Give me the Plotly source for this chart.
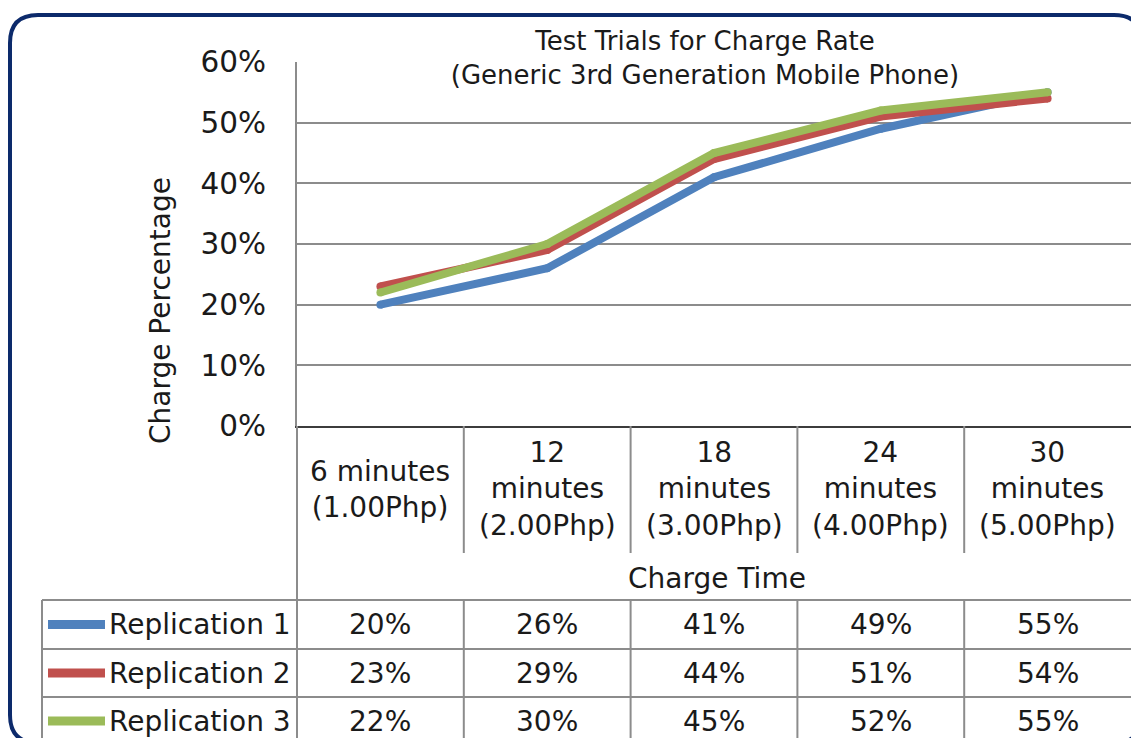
import plotly.graph_objects as go

# ---------------- data ----------------
categories = ["6 minutes<br>(1.00Php)", "12<br>minutes<br>(2.00Php)", "18<br>minutes<br>(3.00Php)",
              "24<br>minutes<br>(4.00Php)", "30<br>minutes<br>(5.00Php)"]
series_names = ["Replication 1", "Replication 2", "Replication 3"]
rep1 = [20, 26, 41, 49, 55]
rep2 = [23, 29, 44, 51, 54]
rep3 = [22, 30, 45, 52, 55]
series_values = [rep1, rep2, rep3]
series_colors = ["#4F81BD", "#C0504D", "#9BBB59"]
title_text = "Test Trials for Charge Rate<br>(Generic 3rd Generation Mobile Phone)"
y_title = "Charge Percentage"
x_title = "Charge Time"

# ---------------- layout helpers ----------------
W, H = 1131, 738
FONT = "DejaVu Sans"
TXT = "#1a1a1a"
GRID = "#8c8c8c"


def px(x):
    return x / W


def py(y):
    return 1 - y / H


PLOT_L, PLOT_T, PLOT_B = 297, 62, 426

fig = go.Figure()
for name, vals, col in zip(series_names, series_values, series_colors):
    fig.add_trace(go.Scatter(
        x=categories, y=[v / 100 for v in vals], name=name, mode="lines+markers",
        line=dict(color=col, width=8), marker=dict(color=col, size=8, line=dict(width=0)),
        showlegend=False, hoverinfo="skip"))

shapes = []
annotations = []

# rounded outer frame
fl, ft, fr, fb, r = 10, 15, 1142, 743, 28
path = (f"M {px(fl)},{py(ft + r)} Q {px(fl)},{py(ft)} {px(fl + r)},{py(ft)} "
        f"L {px(fr - r)},{py(ft)} Q {px(fr)},{py(ft)} {px(fr)},{py(ft + r)} "
        f"L {px(fr)},{py(fb - r)} Q {px(fr)},{py(fb)} {px(fr - r)},{py(fb)} "
        f"L {px(fl + r)},{py(fb)} Q {px(fl)},{py(fb)} {px(fl)},{py(fb - r)} Z")
shapes.append(dict(type="path", xref="paper", yref="paper", path=path,
                   line=dict(color="#0C2A6B", width=4), layer="below"))

# data-table grid
row_lines = [600, 649, 697, 745]
tbl_left = 42
bottom = 760


def hline(x0, x1, y, color=GRID):
    shapes.append(dict(type="line", xref="paper", yref="paper", x0=px(x0), x1=px(x1),
                       y0=py(y), y1=py(y), line=dict(color=color, width=2)))


for yy in row_lines:
    hline(tbl_left, W + 5, yy)
# left column borders
shapes.append(dict(type="line", xref="paper", yref="paper", x0=px(tbl_left), x1=px(tbl_left),
                   y0=py(row_lines[0]), y1=py(bottom), line=dict(color=GRID, width=2)))
shapes.append(dict(type="line", xref="paper", yref="paper", x0=px(PLOT_L), x1=px(PLOT_L),
                   y0=py(PLOT_B), y1=py(bottom), line=dict(color=GRID, width=2)))
# category separators
for i in range(len(categories) - 1):
    for (a, b) in [(PLOT_B, 553), (row_lines[0], bottom)]:
        shapes.append(dict(type="line", xref="x", yref="paper", x0=i + 0.5, x1=i + 0.5,
                           y0=py(a), y1=py(b), line=dict(color=GRID, width=2)))

# category labels
for c in categories:
    annotations.append(dict(x=c, xref="x", y=py(489), yref="paper", text=c, showarrow=False,
                            xanchor="center", yanchor="middle", align="center",
                            font=dict(family=FONT, size=28, color=TXT)))

# axis titles
annotations.append(dict(x=px(717), y=py(578), xref="paper", yref="paper", text=x_title,
                        showarrow=False, xanchor="center", yanchor="middle",
                        font=dict(family=FONT, size=28, color=TXT)))
annotations.append(dict(x=px(160), y=py(311), xref="paper", yref="paper", text=y_title,
                        textangle=-90, showarrow=False, xanchor="center", yanchor="middle",
                        font=dict(family=FONT, size=28, color=TXT)))

# table rows: legend keys, names, values
row_centers = [(row_lines[k] + row_lines[k + 1]) / 2 for k in range(3)]
for name, vals, col, yc in zip(series_names, series_values, series_colors, row_centers):
    shapes.append(dict(type="line", xref="paper", yref="paper", x0=px(48), x1=px(105),
                       y0=py(yc), y1=py(yc), line=dict(color=col, width=9)))
    annotations.append(dict(x=px(107), y=py(yc), xref="paper", yref="paper", text=name,
                            showarrow=False, xanchor="left", yanchor="middle",
                            font=dict(family=FONT, size=28, color=TXT)))
    for c, v in zip(categories, vals):
        annotations.append(dict(x=c, xref="x", y=py(yc), yref="paper", text=f"{v}%",
                                showarrow=False, xanchor="center", yanchor="middle",
                                font=dict(family=FONT, size=28, color=TXT)))

fig.update_layout(
    width=W, height=H, autosize=False,
    margin=dict(l=0, r=0, t=0, b=0, pad=0, autoexpand=False),
    paper_bgcolor="white", plot_bgcolor="white",
    title=dict(text=title_text, x=px(705), y=py(50), xanchor="center", yanchor="middle",
               xref="paper", yref="paper", automargin=False,
               font=dict(family=FONT, size=26, color=TXT)),
    xaxis=dict(type="category", domain=[px(PLOT_L), 1], range=[-0.5, 4.5],
               showgrid=False, showticklabels=False, zeroline=False, automargin=False,
               showline=True, linecolor="#3c3c3c", linewidth=2),
    yaxis=dict(domain=[py(PLOT_B), py(PLOT_T)], range=[0, 0.6], dtick=0.1,
               tickformat=".0%", showgrid=True, gridcolor=GRID, gridwidth=2,
               zeroline=False, showline=True, linecolor=GRID, linewidth=2,
               ticks="", ticklabelstandoff=23, automargin=False,
               tickfont=dict(family=FONT, size=29.5, color=TXT)),
    shapes=shapes, annotations=annotations,
)

fig.write_html(
    "out.html",
    config={"displayModeBar": False, "responsive": False},
    post_script=("document.documentElement.style.margin='0';"
                 "document.body.style.margin='0';"
                 "document.documentElement.style.overflow='hidden';"
                 "document.body.style.overflow='hidden';"),
)
